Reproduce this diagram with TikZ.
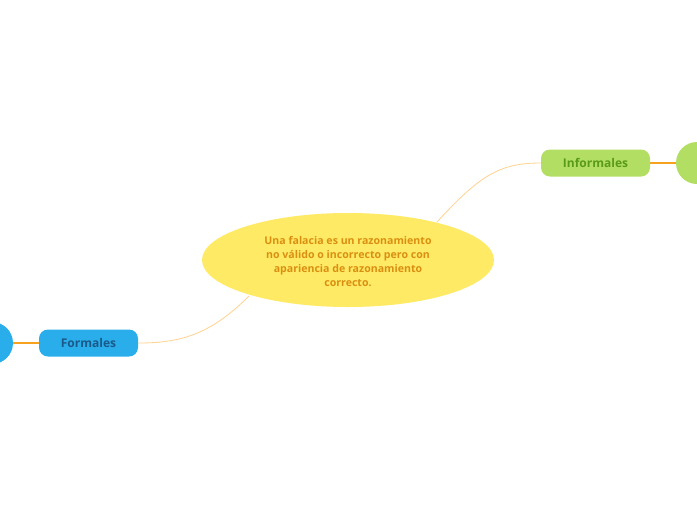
\documentclass[tikz,border=0pt]{standalone}
\usepackage{fontspec}
\setmainfont{Open Sans}
\usetikzlibrary{shapes.geometric}
\definecolor{yel}{HTML}{FFEA66}
\definecolor{yeltext}{HTML}{DA8F10}
\definecolor{grn}{HTML}{B2DE63}
\definecolor{grntext}{HTML}{5A9A1A}
\definecolor{blu}{HTML}{2AADEB}
\definecolor{blutext}{HTML}{1A5A8A}
\definecolor{thinline}{HTML}{FFD28F}
\definecolor{barorange}{HTML}{F7A21E}
\tikzset{
  central/.style={ellipse, fill=yel, minimum width=292pt, minimum height=94pt, inner sep=0pt},
  centraltext/.style={font=\bfseries\fontsize{10.6}{14}\selectfont, text=yeltext, align=center, inner sep=0pt},
  topic/.style={rounded corners=9pt, minimum height=27pt, inner sep=0pt,
    font=\bfseries\fontsize{12}{14}\selectfont},
  endcirc/.style={circle, minimum size=42pt, inner sep=0pt},
  link/.style={draw=thinline, line width=0.8pt},
  bar/.style={draw=barorange, line width=2pt}
}
\begin{document}
\begin{tikzpicture}[x=1pt,y=-1pt]
\useasboundingbox (0,0) rectangle (697,520);
\coordinate (cr) at (437,222);
\coordinate (cl) at (249,296);
\node[topic, minimum width=109pt] (inf) at (595.5,163) {};
\node[topic, minimum width=99pt] (for) at (88.5,343) {};
\node[endcirc] (rc) at (697,163) {};
\node[endcirc] (lc) at (-8,343) {};
\draw[link] (cr) .. controls (480,175) and (500,163) .. (inf.west);
\draw[link] (cl) .. controls (210,335) and (180,343) .. (for.east);
\draw[bar] (inf.east) -- (rc.west);
\draw[bar] (lc.east) -- (for.west);
\node[topic, fill=grn, text=grntext, minimum width=109pt] at (inf) {Informales};
\node[topic, fill=blu, text=blutext, minimum width=99pt] at (for) {Formales};
\node[endcirc, fill=grn] at (rc) {};
\node[endcirc, fill=blu] at (lc) {};
\node[central] (c) at (348,260) {};
\node[centraltext] (ct) at (348,261.5) {Una falacia es un razonamiento\\no válido o incorrecto pero con\\apariencia de razonamiento\\correcto.};
\end{tikzpicture}
\end{document}
